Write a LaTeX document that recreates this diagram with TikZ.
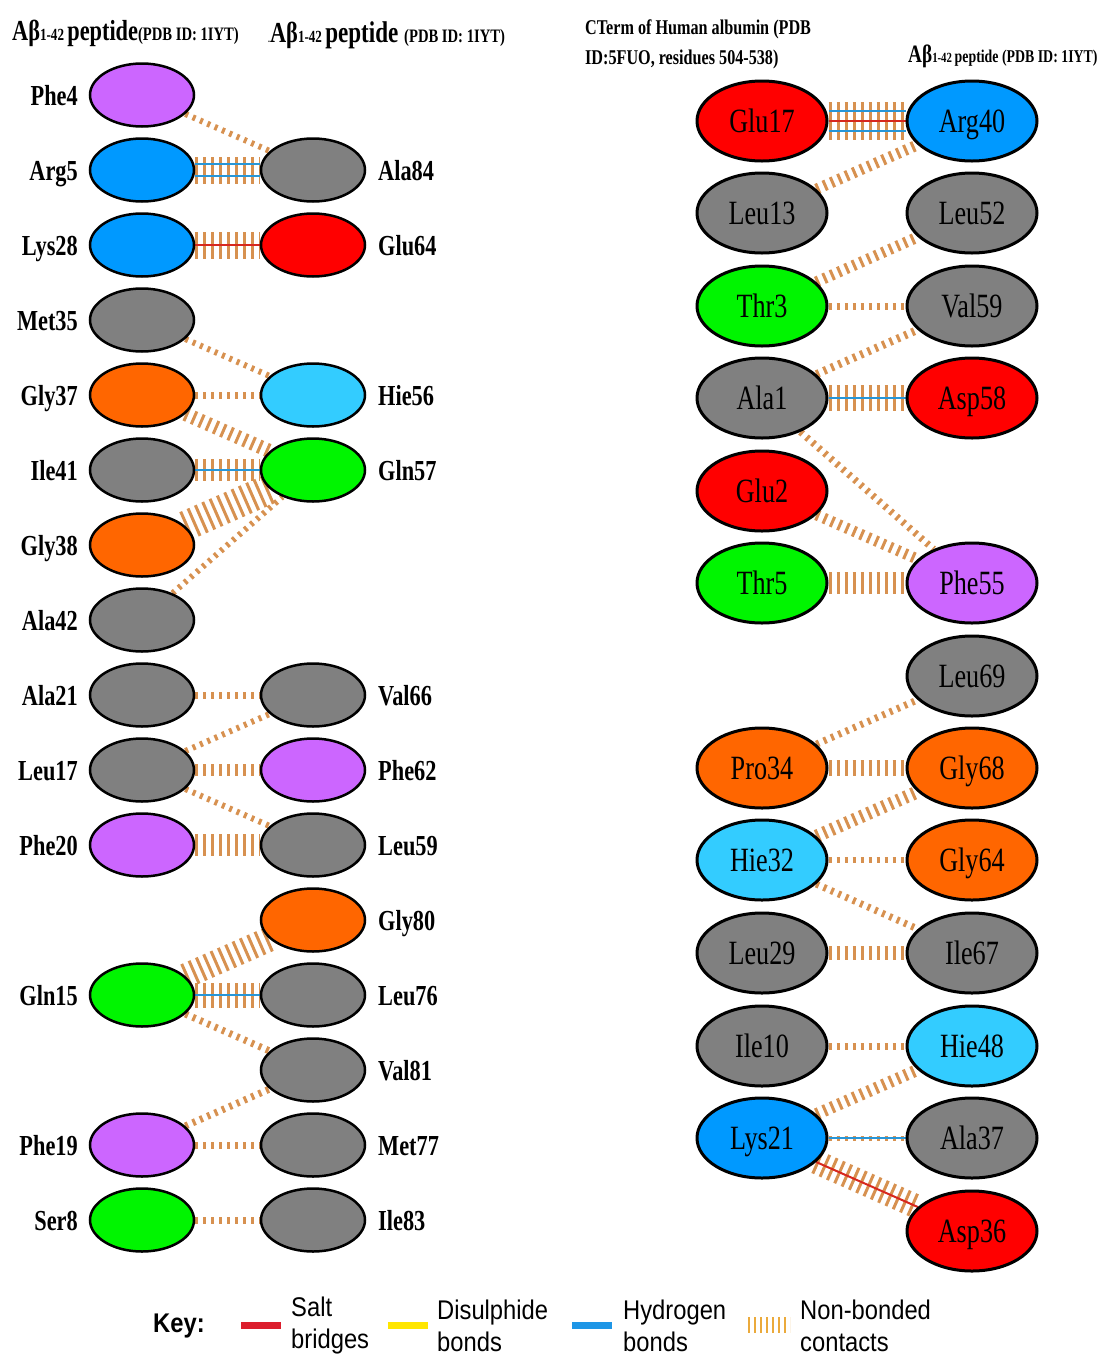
\documentclass[tikz,border=0pt]{standalone}
\usepackage{fontspec}
\setmainfont{Liberation Serif}[FakeStretch=0.77]
\newfontfamily\keyfont{Liberation Sans}[FakeStretch=0.88]
\usetikzlibrary{shapes.geometric,backgrounds}

\definecolor{cpurple}{RGB}{204,102,255}
\definecolor{cblue}{RGB}{0,153,255}
\definecolor{clblue}{RGB}{51,204,255}
\definecolor{cgreen}{RGB}{0,245,0}
\definecolor{cred}{RGB}{255,0,0}
\definecolor{corange}{RGB}{255,102,0}
\definecolor{cgrey}{RGB}{128,128,128}
\definecolor{nbc}{RGB}{215,145,80}
\definecolor{hbc}{RGB}{40,150,215}
\definecolor{sbc}{RGB}{215,40,30}
\definecolor{keyred}{RGB}{220,30,45}
\definecolor{keyyel}{RGB}{255,230,0}
\definecolor{keyblue}{RGB}{30,150,230}
\definecolor{keynb}{RGB}{235,170,60}

\newcommand\Lres[4]{\node[resL,fill=#4] (#1) at (142,#3) {}; \node[labL] (#1-t) at (78,#3+10) {#2};}
\newcommand\Rres[4]{\node[resL,fill=#4] (#1) at (313,#3) {}; \node[labR] (#1-t) at (378,#3+10) {#2};}
\newcommand\Pres[5]{\node[resP,fill=#5] (#1) at (#3,#4) {#2};}

\begin{document}
\begin{tikzpicture}[x=1pt,y=-1pt,
  resL/.style={ellipse,draw=black,line width=2.5pt,inner sep=0pt,minimum width=104pt,minimum height=63pt},
  resP/.style={ellipse,draw=black,line width=3pt,inner sep=0pt,minimum width=130pt,minimum height=80pt,
    font=\fontsize{34}{34}\selectfont,text height=23pt,text depth=0pt},
  labL/.style={anchor=base east,inner sep=0pt,font=\bfseries\fontsize{29}{29}\selectfont},
  labR/.style={anchor=base west,inner sep=0pt,font=\bfseries\fontsize{29}{29}\selectfont},
  nb/.style={draw=nbc,line width=#1,dash pattern=on 3pt off 5pt},
  nb/.default=6pt,
  hb/.style={draw=hbc,line width=2pt},
  sb/.style={draw=sbc,line width=2pt},
  keytxt/.style={anchor=west,inner sep=0pt,align=left,font=\keyfont\fontsize{27}{32}\selectfont},
]
\useasboundingbox (0,0) rectangle (1105,1358);

% headers
\node[anchor=base west,inner sep=0pt] (h1) at (12,40)
  {\bfseries\fontsize{29}{29}\selectfont Aβ\fontsize{17}{17}\selectfont 1-42 \fontsize{29}{29}\selectfont peptide\fontsize{19}{19}\selectfont(PDB ID: 1IYT)};
\node[anchor=base west,inner sep=0pt] (h2) at (268,42)
  {\bfseries\fontsize{10}{10}\selectfont.\fontsize{29}{29}\selectfont Aβ\fontsize{17}{17}\selectfont 1-42 \fontsize{30}{30}\selectfont peptide \fontsize{19}{19}\selectfont(PDB ID: 1IYT)};
\node[anchor=north west,inner sep=0pt,align=left,font=\bfseries\fontsize{21}{30}\selectfont] (h3) at (585,20)
  {CTerm of Human albumin (PDB\\ID:5FUO, residues 504-538)};
\node[anchor=base west,inner sep=0pt] (h4) at (908,62)
  {\bfseries\fontsize{25}{25}\selectfont Aβ\fontsize{14}{14}\selectfont 1-42 \fontsize{18}{18}\selectfont peptide (PDB ID: 1IYT)};

% left panel, left column
\Lres{phe4}{Phe4}{95}{cpurple}
\Lres{arg5}{Arg5}{170}{cblue}
\Lres{lys28}{Lys28}{245}{cblue}
\Lres{met35}{Met35}{320}{cgrey}
\Lres{gly37}{Gly37}{395}{corange}
\Lres{ile41}{Ile41}{470}{cgrey}
\Lres{gly38}{Gly38}{545}{corange}
\Lres{ala42}{Ala42}{620}{cgrey}
\Lres{ala21}{Ala21}{695}{cgrey}
\Lres{leu17}{Leu17}{770}{cgrey}
\Lres{phe20}{Phe20}{845}{cpurple}
\Lres{gln15}{Gln15}{995}{cgreen}
\Lres{phe19}{Phe19}{1145}{cpurple}
\Lres{ser8}{Ser8}{1220}{cgreen}

% left panel, right column
\Rres{ala84}{Ala84}{170}{cgrey}
\Rres{glu64}{Glu64}{245}{cred}
\Rres{hie56}{Hie56}{395}{clblue}
\Rres{gln57}{Gln57}{470}{cgreen}
\Rres{val66}{Val66}{695}{cgrey}
\Rres{phe62}{Phe62}{770}{cpurple}
\Rres{leu59}{Leu59}{845}{cgrey}
\Rres{gly80}{Gly80}{920}{corange}
\Rres{leu76}{Leu76}{995}{cgrey}
\Rres{val81}{Val81}{1070}{cgrey}
\Rres{met77}{Met77}{1145}{cgrey}
\Rres{ile83}{Ile83}{1220}{cgrey}

% right panel, left column
\Pres{rglu17}{Glu17}{762}{121}{cred}
\Pres{rleu13}{Leu13}{762}{213}{cgrey}
\Pres{rthr3}{Thr3}{762}{306}{cgreen}
\Pres{rala1}{Ala1}{762}{398}{cgrey}
\Pres{rglu2}{Glu2}{762}{491}{cred}
\Pres{rthr5}{Thr5}{762}{583}{cgreen}
\Pres{rpro34}{Pro34}{762}{768}{corange}
\Pres{rhie32}{Hie32}{762}{860}{clblue}
\Pres{rleu29}{Leu29}{762}{953}{cgrey}
\Pres{rile10}{Ile10}{762}{1046}{cgrey}
\Pres{rlys21}{Lys21}{762}{1138}{cblue}

% right panel, right column
\Pres{rarg40}{Arg40}{972}{121}{cblue}
\Pres{rleu52}{Leu52}{972}{213}{cgrey}
\Pres{rval59}{Val59}{972}{306}{cgrey}
\Pres{rasp58}{Asp58}{972}{398}{cred}
\Pres{rphe55}{Phe55}{972}{583}{cpurple}
\Pres{rleu69}{Leu69}{972}{676}{cgrey}
\Pres{rgly68}{Gly68}{972}{768}{corange}
\Pres{rgly64}{Gly64}{972}{860}{corange}
\Pres{rile67}{Ile67}{972}{953}{cgrey}
\Pres{rhie48}{Hie48}{972}{1046}{clblue}
\Pres{rala37}{Ala37}{972}{1138}{cgrey}
\Pres{rasp36}{Asp36}{972}{1231}{cred}

\begin{scope}[on background layer]
% left panel connectors
\draw[nb=6pt] (phe4) -- (ala84);
\draw[nb=27pt] (arg5) -- (ala84);
\draw[hb] ([yshift=6pt]arg5.east) -- ([yshift=6pt]ala84.west);
\draw[hb] ([yshift=-6pt]arg5.east) -- ([yshift=-6pt]ala84.west);
\draw[nb=27pt] (lys28) -- (glu64);
\draw[sb] (lys28) -- (glu64);
\draw[nb=6pt] (met35) -- (hie56);
\draw[nb=7pt] (gly37) -- (hie56);
\draw[nb=14pt] (gly37) -- (gln57);
\draw[nb=22pt] (ile41) -- (gln57);
\draw[hb] (ile41) -- (gln57);
\draw[nb=30pt] (gly38) -- (gln57);
\draw[nb=6pt] (ala42) -- (gln57);
\draw[nb=7pt] (ala21) -- (val66);
\draw[nb=6pt] (leu17) -- (val66);
\draw[nb=12pt] (leu17) -- (phe62);
\draw[nb=6pt] (leu17) -- (leu59);
\draw[nb=22pt] (phe20) -- (leu59);
\draw[nb=25pt] (gln15) -- (gly80);
\draw[nb=25pt] (gln15) -- (leu76);
\draw[hb] (gln15) -- (leu76);
\draw[nb=7pt] (gln15) -- (val81);
\draw[nb=7pt] (phe19) -- (val81);
\draw[nb=7pt] (phe19) -- (met77);
\draw[nb=7pt] (ser8) -- (ile83);
% right panel connectors
\draw[nb=38pt] (rglu17) -- (rarg40);
\draw[hb] ([yshift=10pt]rglu17.east) -- ([yshift=10pt]rarg40.west);
\draw[hb] ([yshift=-10pt]rglu17.east) -- ([yshift=-10pt]rarg40.west);
\draw[sb] (rglu17) -- (rarg40);
\draw[nb=11pt] (rleu13) -- (rarg40);
\draw[nb=11pt] (rthr3) -- (rleu52);
\draw[nb=7pt] (rthr3) -- (rval59);
\draw[nb=8pt] (rala1) -- (rval59);
\draw[nb=26pt] (rala1) -- (rasp58);
\draw[hb] (rala1) -- (rasp58);
\draw[nb=7pt] (rala1) -- (rphe55);
\draw[nb=11pt] (rglu2) -- (rphe55);
\draw[nb=22pt] (rthr5) -- (rphe55);
\draw[nb=7pt] (rpro34) -- (rleu69);
\draw[nb=16pt] (rpro34) -- (rgly68);
\draw[nb=13pt] (rhie32) -- (rgly68);
\draw[nb=6pt] (rhie32) -- (rgly64);
\draw[nb=7pt] (rhie32) -- (rile67);
\draw[nb=14pt] (rleu29) -- (rile67);
\draw[nb=7pt] (rile10) -- (rhie48);
\draw[nb=12pt] (rlys21) -- (rhie48);
\draw[nb=5pt] (rlys21) -- (rala37);
\draw[hb] (rlys21) -- (rala37);
\draw[nb=24pt] (rlys21) -- (rasp36);
\draw[sb] (rlys21) -- (rasp36);
\end{scope}

% key
\node[anchor=west,inner sep=0pt,font=\keyfont\bfseries\fontsize{27}{27}\selectfont] (key) at (153,1326) {Key:};
\coordinate (k1a) at (241,1325); \coordinate (k1b) at (281,1325);
\coordinate (k2a) at (388,1325); \coordinate (k2b) at (428,1325);
\coordinate (k3a) at (572,1325); \coordinate (k3b) at (612,1325);
\coordinate (k4a) at (748,1325); \coordinate (k4b) at (790,1325);
\draw[keyred,line width=7pt] (k1a) -- (k1b);
\draw[keyyel,line width=7pt] (k2a) -- (k2b);
\draw[keyblue,line width=7pt] (k3a) -- (k3b);
\draw[keynb,line width=16pt,dash pattern=on 2pt off 4pt] (k4a) -- (k4b);
\node[keytxt] (kt1) at (291,1326) {Salt\\bridges};
\node[keytxt] (kt2) at (437,1326) {Disulphide\\bonds};
\node[keytxt] (kt3) at (623,1326) {Hydrogen\\bonds};
\node[keytxt] (kt4) at (800,1326) {Non-bonded\\contacts};
\end{tikzpicture}
\end{document}
